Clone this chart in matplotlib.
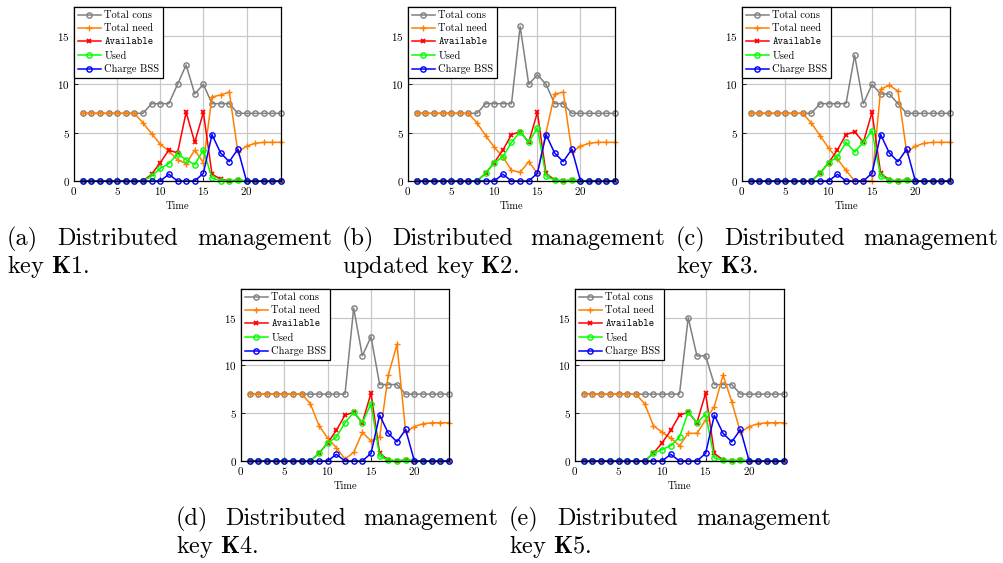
"""
Recria a figura com os 5 graficos de gestao distribuida (chaves K1..K5).
Salva em out.png
"""

import matplotlib
matplotlib.use("Agg")
import matplotlib.pyplot as plt

plt.rcParams["font.family"] = "cmr10"
plt.rcParams["mathtext.fontset"] = "cm"
plt.rcParams["axes.formatter.use_mathtext"] = True

time = list(range(1, 25))

# K1
cons_k1 = [7, 7, 7, 7, 7, 7, 7, 7, 8, 8, 8, 10, 12, 9, 10, 8, 8, 8, 7, 7, 7, 7, 7, 7]
need_k1 = [7, 7, 7, 7, 7, 7, 7, 6, 4.9, 3.8, 3.1, 2.2, 1.8, 3.2, 1.9, 8.7, 8.9, 9.2, 3.0, 3.6, 3.9, 4, 4, 4]
avail_k1 = [0, 0, 0, 0, 0, 0, 0, 0, 0.7, 1.9, 3.2, 2.9, 7.1, 4.0, 7.1, 0.7, 0.2, 0, 0.1, 0, 0, 0, 0, 0]
used_k1 = [0, 0, 0, 0, 0, 0, 0, 0, 0.5, 1.3, 1.8, 2.8, 2.2, 1.7, 3.2, 0.3, 0.05, 0, 0.1, 0, 0, 0, 0, 0]

# K2
cons_k2 = [7, 7, 7, 7, 7, 7, 7, 7, 8, 8, 8, 8, 16, 10, 11, 10, 8, 8, 7, 7, 7, 7, 7, 7]
need_k2 = [7, 7, 7, 7, 7, 7, 7, 6, 4.7, 3.5, 2.5, 1.1, 0.9, 2.0, 0.8, 5.0, 9.0, 9.2, 3.0, 3.6, 3.9, 4, 4, 4]
avail_k2 = [0, 0, 0, 0, 0, 0, 0, 0, 0.8, 1.9, 3.2, 4.8, 5.1, 4.0, 7.1, 0.8, 0.1, 0, 0.1, 0, 0, 0, 0, 0]
used_k2 = [0, 0, 0, 0, 0, 0, 0, 0, 0.8, 1.9, 2.5, 4.0, 5.1, 4.0, 5.5, 0.5, 0.1, 0, 0.1, 0, 0, 0, 0, 0]

# K3
cons_k3 = [7, 7, 7, 7, 7, 7, 7, 7, 8, 8, 8, 8, 13, 8, 10, 9, 9, 8, 7, 7, 7, 7, 7, 7]
need_k3 = [7, 7, 7, 7, 7, 7, 7, 6, 4.7, 3.4, 2.3, 1.1, 0, 0, 0, 9.5, 9.9, 9.3, 3.0, 3.6, 3.9, 4, 4, 4]
avail_k3 = [0, 0, 0, 0, 0, 0, 0, 0, 0.8, 1.9, 3.2, 4.8, 5.1, 4.0, 7.1, 0.8, 0.1, 0, 0.1, 0, 0, 0, 0, 0]
used_k3 = [0, 0, 0, 0, 0, 0, 0, 0, 0.8, 1.9, 2.5, 4.0, 3.0, 4.0, 5.2, 0.5, 0.1, 0, 0.1, 0, 0, 0, 0, 0]

# K4
cons_k4 = [7, 7, 7, 7, 7, 7, 7, 7, 7, 7, 7, 7, 16, 11, 13, 8, 8, 8, 7, 7, 7, 7, 7, 7]
need_k4 = [7, 7, 7, 7, 7, 7, 7, 6, 3.7, 2.4, 1.4, 0.2, 0.9, 3.0, 2.1, 2.5, 9.0, 12.2, 3.0, 3.6, 3.9, 4, 4, 4]
avail_k4 = [0, 0, 0, 0, 0, 0, 0, 0, 0.8, 1.9, 3.2, 4.8, 5.1, 4.0, 7.1, 0.8, 0.1, 0, 0.1, 0, 0, 0, 0, 0]
used_k4 = [0, 0, 0, 0, 0, 0, 0, 0, 0.8, 1.9, 2.5, 4.0, 5.1, 4.0, 6.0, 0.5, 0.1, 0, 0.1, 0, 0, 0, 0, 0]

# K5
cons_k5 = [7, 7, 7, 7, 7, 7, 7, 7, 7, 7, 7, 7, 15, 11, 11, 8, 8, 8, 7, 7, 7, 7, 7, 7]
need_k5 = [7, 7, 7, 7, 7, 7, 7, 6, 3.7, 3.0, 2.4, 1.6, 2.9, 2.9, 4.3, 5.7, 9.0, 6.2, 3.0, 3.6, 3.9, 4, 4, 4]
avail_k5 = [0, 0, 0, 0, 0, 0, 0, 0, 0.8, 1.9, 3.2, 4.8, 5.1, 4.0, 7.1, 0.8, 0.1, 0, 0.1, 0, 0, 0, 0, 0]
used_k5 = [0, 0, 0, 0, 0, 0, 0, 0, 0.8, 1.2, 1.6, 2.5, 5.1, 4.0, 4.9, 0.3, 0.1, 0, 0.1, 0, 0, 0, 0, 0]

# igual em todas as chaves
charge_bss = [0, 0, 0, 0, 0, 0, 0, 0, 0, 0, 0.7, 0, 0, 0, 0.8, 4.8, 2.9, 2.0, 3.3, 0, 0, 0, 0, 0]

series_labels = ["Total cons", "Total need", "Available", "Used", "Charge BSS"]
caption_tags = ["(a)", "(b)", "(c)", "(d)", "(e)"]
caption_second = ["key", "updated key", "key", "key", "key"]
key_names = ["K1", "K2", "K3", "K4", "K5"]

W, H = 1004, 563

# caixas dos eixos em pixels: (esq, dir, topo, base)
boxes = [(74, 281, 7, 181), (408, 615, 7, 181), (742, 950, 7, 181),
         (241, 449, 289, 461), (575, 784, 289, 461)]
# caption: x inicial, x final, baseline linha 1, baseline linha 2
caps = [(7, 332, 245, 273), (342, 665, 245, 273), (676, 998, 245, 273),
        (176, 498, 525, 553), (509, 831, 525, 553)]


def plot_panel(ax, cons, need, avail, used):
    kw = dict(lw=1.1, clip_on=False)
    ax.plot(time, cons, color="#808080", marker="o", ms=3.8, mfc="none", mew=1.0, **kw)
    ax.plot(time, need, color="#ff8000", marker="+", ms=4.5, mew=1.0, **kw)
    ax.plot(time, avail, color="#ff0000", marker="x", ms=2.6, mew=1.3, **kw)
    ax.plot(time, used, color="#00ff00", marker="o", ms=3.8, mfc="none", mew=1.0, **kw)
    ax.plot(time, charge_bss, color="#0000ff", marker="o", ms=3.8, mfc="none", mew=1.0, **kw)
    ax.set_xlim(0, 24)
    ax.set_ylim(0, 18)
    ax.set_xticks([0, 5, 10, 15, 20])
    ax.set_yticks([0, 5, 10, 15])
    ax.grid(True, color="#c8c8c8", lw=0.9)
    ax.set_axisbelow(True)
    ax.tick_params(direction="in", length=3, labelsize=8, pad=3, width=0.6)
    for s in ax.spines.values():
        s.set_linewidth(0.9)
    ax.set_xlabel("Time", fontsize=7.5, labelpad=3)
    leg = ax.legend(series_labels, loc="upper left", fontsize=7.5, borderaxespad=0,
                    frameon=True, fancybox=False, framealpha=1, edgecolor="black",
                    handlelength=2.2, handletextpad=0.35, labelspacing=0.36,
                    borderpad=0.35, numpoints=1)
    leg.get_frame().set_linewidth(0.9)
    leg.get_texts()[2].set_fontfamily("cmtt10")


def put_justified(fig, renderer, words, x0, x1, yb, size):
    texts = [fig.text(0, 1 - yb / H, w, fontsize=size, va="baseline") for w in words]
    widths = [t.get_window_extent(renderer).width for t in texts]
    gap = (x1 - x0 - sum(widths)) / (len(words) - 1)
    x = x0
    for t, w in zip(texts, widths):
        t.set_x(x / W)
        x += w + gap


def main():
    fig = plt.figure(figsize=(W / 100, H / 100), dpi=100)
    data = [(cons_k1, need_k1, avail_k1, used_k1), (cons_k2, need_k2, avail_k2, used_k2),
            (cons_k3, need_k3, avail_k3, used_k3), (cons_k4, need_k4, avail_k4, used_k4),
            (cons_k5, need_k5, avail_k5, used_k5)]
    for (l, r, t, b), d in zip(boxes, data):
        ax = fig.add_axes([l / W, 1 - b / H, (r - l) / W, (b - t) / H])
        plot_panel(ax, *d)

    renderer = fig.canvas.get_renderer()
    for i, (x0, x1, y1, y2) in enumerate(caps):
        put_justified(fig, renderer, [caption_tags[i], "Distributed", "management"], x0, x1, y1, 17.5)
        fig.text(x0 / W, 1 - y2 / H, caption_second[i] + r" $\mathbf{" + key_names[i] + "}$.",
                 fontsize=17.5, va="baseline")

    fig.savefig("out.png", dpi=100)
    plt.close(fig)


if __name__ == "__main__":
    main()
